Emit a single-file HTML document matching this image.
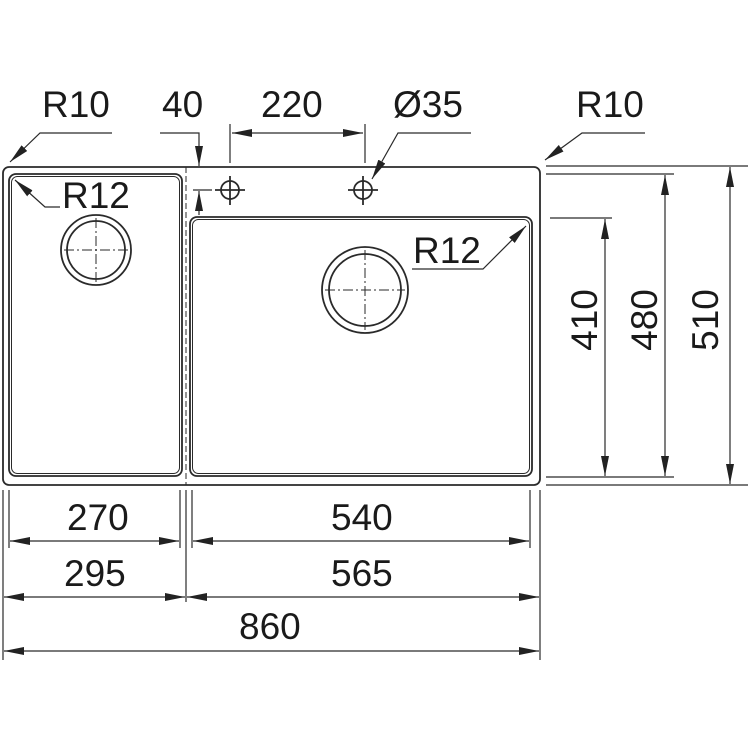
<!DOCTYPE html><html><head><style>body{margin:0;background:#fff}svg{display:block}text{font-family:"Liberation Sans",Arial,sans-serif;font-size:37px;fill:#1a1a1a}</style></head><body>
<svg width="750" height="750" viewBox="0 0 750 750" xmlns="http://www.w3.org/2000/svg">
<defs><marker id="a" viewBox="0 0 20 8" refX="20" refY="4" markerWidth="20" markerHeight="8" markerUnits="userSpaceOnUse" orient="auto-start-reverse"><path d="M0,0L20,4L0,8z" fill="#222"/></marker></defs>
<g fill="none" stroke="#2a2a2a" stroke-width="1.8">
<rect x="3" y="167" width="537" height="318" rx="6"/>
<rect x="9" y="174" width="173" height="302" rx="7"/>
<rect x="11.5" y="176.5" width="168" height="297" rx="6" stroke-width="1"/>
<rect x="190" y="217" width="342" height="259" rx="7"/>
<rect x="192.5" y="219.5" width="337" height="254" rx="6" stroke-width="1"/>
<line x1="186" y1="167" x2="186" y2="485" stroke-dasharray="6,3" stroke-width="1"/>
<circle cx="96" cy="250" r="35"/><circle cx="96" cy="250" r="29"/>
<circle cx="365" cy="290" r="43"/><circle cx="365" cy="290" r="36"/>
<g stroke-width="1" stroke-dasharray="10,3,2,3"><line x1="64" y1="250" x2="128" y2="250"/><line x1="96" y1="218" x2="96" y2="282"/><line x1="325" y1="290" x2="405" y2="290"/><line x1="365" y1="250" x2="365" y2="330"/></g>
<circle cx="230" cy="190" r="9"/><line x1="215" y1="190" x2="245" y2="190"/><line x1="230" y1="176" x2="230" y2="205"/>
<circle cx="363" cy="190" r="9"/><line x1="348" y1="190" x2="378" y2="190"/><line x1="363" y1="176" x2="363" y2="205"/>
<g stroke-width="1.2">
<line x1="230" y1="124" x2="230" y2="163"/><line x1="365" y1="124" x2="365" y2="163"/>
<line x1="232" y1="133" x2="363" y2="133" marker-start="url(#a)" marker-end="url(#a)"/>
<polyline points="160,133 199,133 199,166" marker-end="url(#a)"/>
<line x1="199" y1="215" x2="199" y2="191" marker-end="url(#a)"/>
<line x1="193" y1="190" x2="212" y2="190"/>
<polyline points="471,133 398,133 372,179" marker-end="url(#a)"/>
<polyline points="112,133 40,133 10,162" marker-end="url(#a)"/>
<polyline points="645,133 582,133 545,160" marker-end="url(#a)"/>
<polyline points="60,207 45,207 15,180" marker-end="url(#a)"/>
<polyline points="412,269 483,269 526,226" marker-end="url(#a)"/>
<line x1="546" y1="166" x2="748" y2="166"/><line x1="546" y1="174" x2="674" y2="174"/>
<line x1="550" y1="218" x2="612" y2="218"/><line x1="546" y1="477" x2="674" y2="477"/><line x1="546" y1="485" x2="748" y2="485"/>
<line x1="605" y1="219" x2="605" y2="476" marker-start="url(#a)" marker-end="url(#a)"/>
<line x1="665" y1="175" x2="665" y2="476" marker-start="url(#a)" marker-end="url(#a)"/>
<line x1="730" y1="167" x2="730" y2="484" marker-start="url(#a)" marker-end="url(#a)"/>
<line x1="3" y1="490" x2="3" y2="660"/><line x1="9" y1="490" x2="9" y2="548"/><line x1="180" y1="490" x2="180" y2="548"/>
<line x1="186" y1="490" x2="186" y2="602"/><line x1="192" y1="490" x2="192" y2="548"/><line x1="530" y1="490" x2="530" y2="548"/><line x1="540" y1="490" x2="540" y2="660"/>
<line x1="10" y1="541" x2="179" y2="541" marker-start="url(#a)" marker-end="url(#a)"/>
<line x1="193" y1="541" x2="529" y2="541" marker-start="url(#a)" marker-end="url(#a)"/>
<line x1="4" y1="597" x2="185" y2="597" marker-start="url(#a)" marker-end="url(#a)"/>
<line x1="187" y1="597" x2="539" y2="597" marker-start="url(#a)" marker-end="url(#a)"/>
<line x1="4" y1="651" x2="539" y2="651" marker-start="url(#a)" marker-end="url(#a)"/>
</g></g>
<text x="42" y="117">R10</text><text x="162" y="117">40</text><text x="261" y="117">220</text><text x="393" y="117">Ø35</text><text x="576" y="117">R10</text>
<text x="62" y="208">R12</text><text x="413" y="263">R12</text>
<text x="67" y="530">270</text><text x="331" y="530">540</text><text x="64" y="586">295</text><text x="331" y="586">565</text><text x="239" y="639">860</text>
<text transform="translate(597,320) rotate(-90)" text-anchor="middle">410</text>
<text transform="translate(657,320) rotate(-90)" text-anchor="middle">480</text>
<text transform="translate(718,320) rotate(-90)" text-anchor="middle">510</text>
</svg></body></html>
